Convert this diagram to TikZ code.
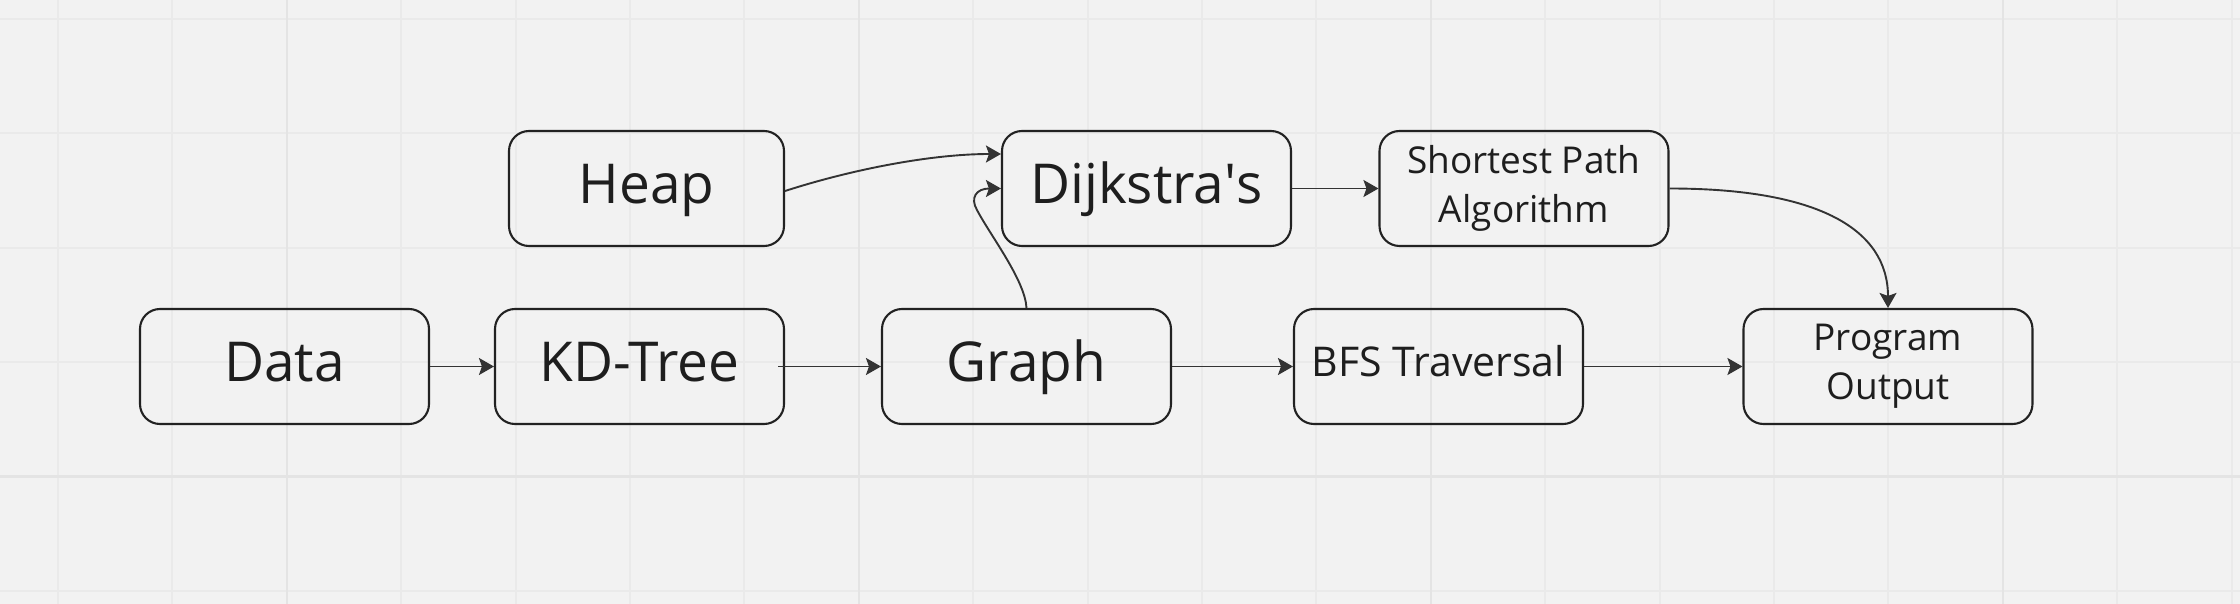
\documentclass[tikz,border=0pt]{standalone}
\usepackage{fontspec}
\setmainfont{Open Sans}
\usetikzlibrary{arrows.meta}
\definecolor{bg}{HTML}{F2F2F2}
\definecolor{gridminor}{HTML}{EAEAEA}
\definecolor{gridmajor}{HTML}{E4E4E4}
\definecolor{boxline}{HTML}{222222}
\definecolor{arrowc}{HTML}{333333}
\definecolor{txt}{HTML}{1E1E1E}
\begin{document}
\begin{tikzpicture}[x=0.5pt,y=-0.5pt,
  box/.style={draw=boxline, line width=1.05pt, rounded corners=10pt,
    minimum width=144.5pt, minimum height=57.5pt, inner sep=0pt,
    text=txt, align=center},
  bigtxt/.style={font=\fontsize{27.5}{33}\selectfont, text height=20pt, text depth=5.4pt},
  medtxt/.style={font=\fontsize{20.5}{25}\selectfont, text height=15pt, text depth=5.2pt},
  smalltxt/.style={font=\fontsize{18.5}{24.5}\selectfont},
  conn/.style={draw=arrowc, line width=0.95pt,
    -{Stealth[length=7.5pt,width=8.5pt,inset=1.5pt]}},
  minorline/.style={draw=gridminor, line width=1pt},
  majorline/.style={draw=gridmajor, line width=1.2pt}
]
\fill[bg] (0,0) rectangle (2240,604);
\useasboundingbox (0,0) rectangle (2240,604);
% grid
\foreach \i in {0,...,19} \draw[minorline] ({57.9+114.4*\i},0) -- ({57.9+114.4*\i},604);
\foreach \j in {0,...,5} \draw[minorline] (0,{18.9+114.4*\j}) -- (2240,{18.9+114.4*\j});
\foreach \i in {0,...,3} \draw[majorline] ({286.7+572*\i},0) -- ({286.7+572*\i},604);
\draw[majorline] (0,476.5) -- (2240,476.5);
% nodes
\node[box, bigtxt] (data) at (284.5,366.5) {Data};
\node[box, bigtxt] (kd) at (639.5,366.5) {KD-Tree};
\node[box, bigtxt] (graph) at (1026.5,366.5) {Graph};
\node[box, medtxt] (bfs) at (1438.5,366.5) {BFS Traversal};
\node[box, smalltxt] (prog) at (1888,366.5) {Program\\Output};
\node[box, bigtxt, minimum width=137.5pt] (heap) at (646.5,188.5) {Heap};
\node[box, bigtxt] (dij) at (1146.5,188.5) {Dijkstra\textquotesingle s};
\node[box, smalltxt] (sp) at (1524,188.5) {Shortest Path\\Algorithm};
% connectors
\draw[conn] (data.east) -- (kd.west);
\draw[conn] ([xshift=-3.5pt]kd.east) -- (graph.west);
\draw[conn] (graph.east) -- (bfs.west);
\draw[conn] (bfs.east) -- (prog.west);
\draw[conn] (dij.east) -- (sp.west);
\draw[conn] ([yshift=-1.25pt]heap.east) .. controls (850,170) and (930,154) .. ([yshift=17.25pt]dij.west);
\draw[conn] (graph.north) .. controls (1025,280) and (990,235) .. (977,210) .. controls (970,198) and (976,188.5) .. (dij.west);
\draw[conn] (sp.east) .. controls (1820,188.5) and (1888,230) .. (prog.north);
\end{tikzpicture}
\end{document}
